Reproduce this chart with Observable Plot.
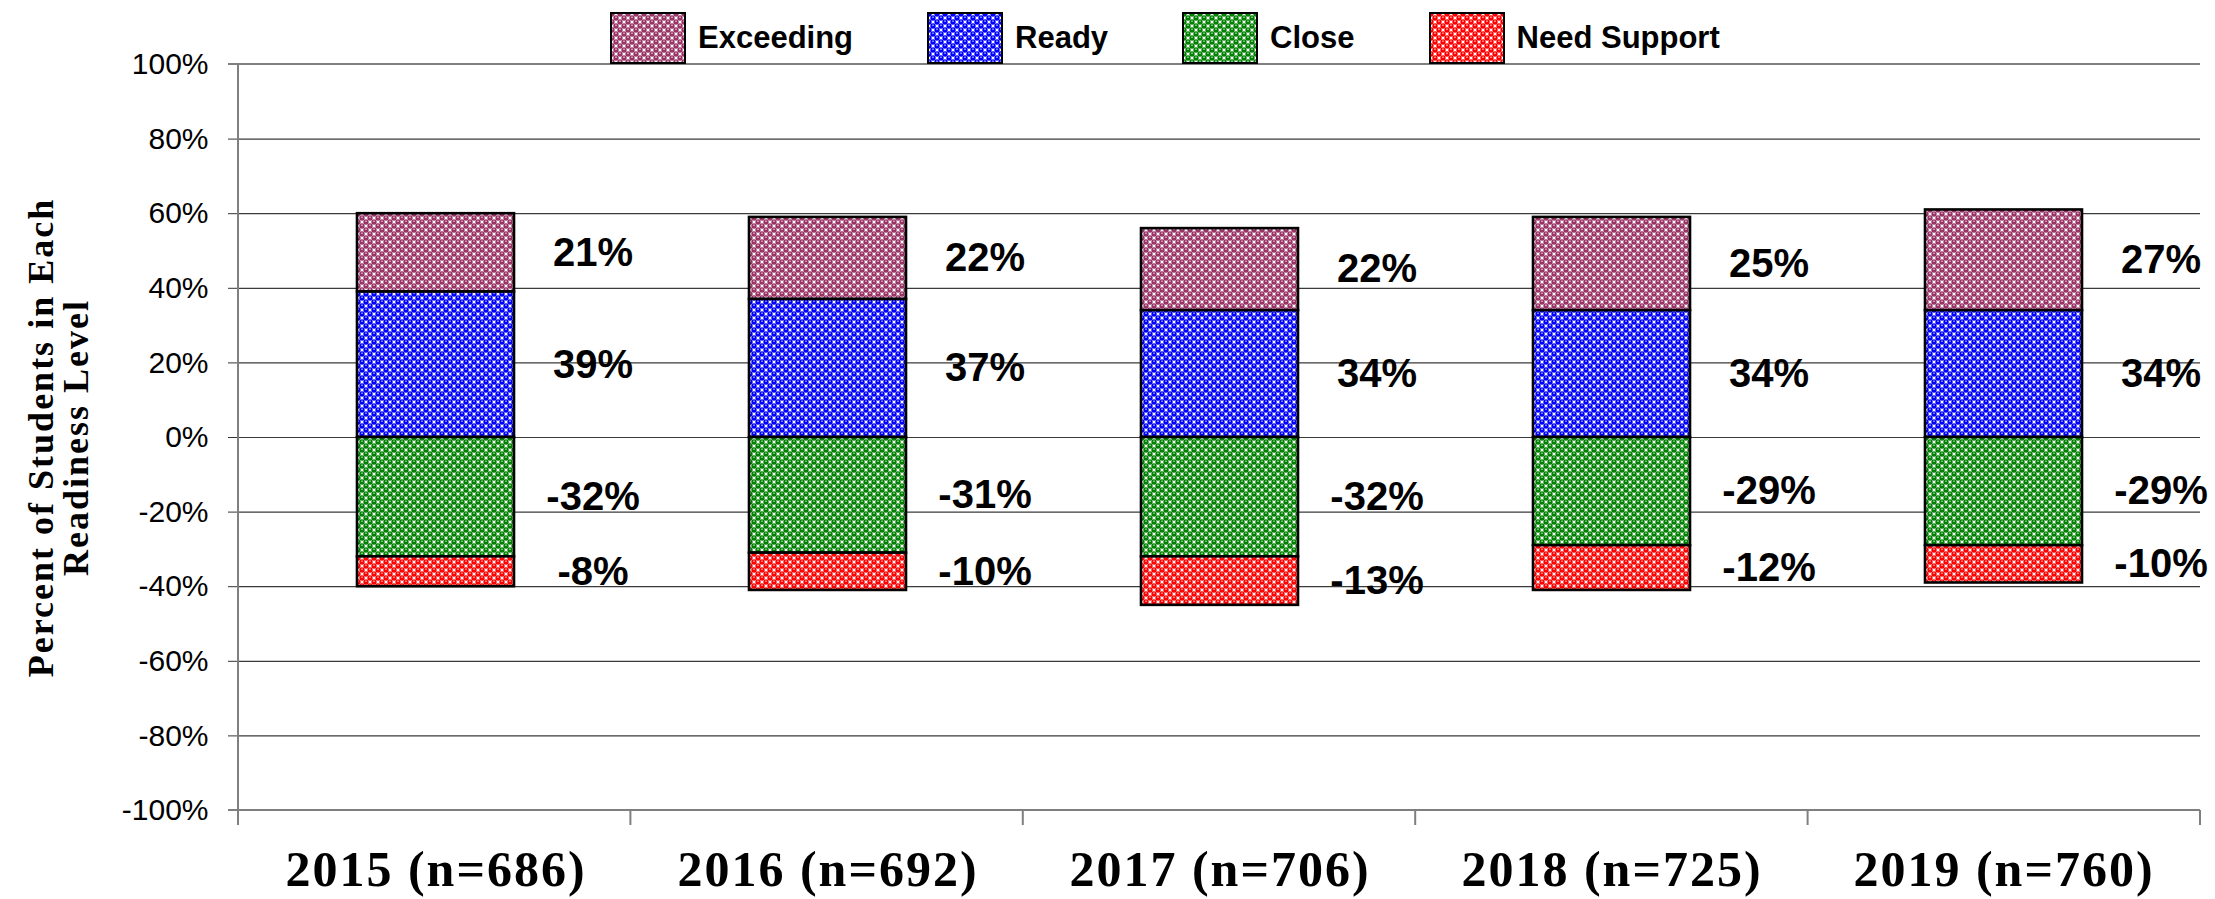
<!DOCTYPE html>
<html>
<head>
<meta charset="utf-8">
<script src="https://cdn.jsdelivr.net/npm/d3@7"></script>
<script src="https://cdn.jsdelivr.net/npm/@observablehq/plot@0.6"></script>
<style>
  body { margin: 0; background: #fff; }
  #wrap { position: relative; width: 2215px; height: 899px; }
  #legend { position: absolute; z-index: 2; top: 12px; left: 610px; display: flex; gap: 74px; align-items: center;
            font-family: "Liberation Sans", Arial, sans-serif; font-weight: bold; font-size: 31px; color: #000; }
  .item { display: flex; align-items: center; gap: 12px; }
  .item svg { display: block; }
</style>
</head>
<body>
<div id="wrap"><div id="legend"></div></div>
<script>
// ---- data ----
const years = ["2015 (n=686)", "2016 (n=692)", "2017 (n=706)", "2018 (n=725)", "2019 (n=760)"];
const levels = ["Exceeding", "Ready", "Close", "Need Support"];
const exceeding = [21, 22, 22, 25, 27];
const ready = [39, 37, 34, 34, 34];
const close = [-32, -31, -32, -29, -29];
const needSupport = [-8, -10, -13, -12, -10];
const yTicks = [100, 80, 60, 40, 20, 0, -20, -40, -60, -80, -100];
const yTitle = "Percent of Students in Each\nReadiness Level";

// ---- styles ----
const colors = ["#993366", "#0000FF", "#008000", "#FF0000"];
const stackOrder = ["Ready", "Close", "Exceeding", "Need Support"];

const series = [exceeding, ready, close, needSupport];
const table = years.flatMap((year, i) => levels.map((level, j) => ({year, level, value: series[j][i]})));

// pattern defs (shared by chart and legend)
const defsSvg = d3.select("body").append("svg")
  .attr("width", 0).attr("height", 0).style("position", "absolute");
const defs = defsSvg.append("defs");
levels.forEach((l, i) => {
  const p = defs.append("pattern").attr("id", "pat" + i)
    .attr("patternUnits", "userSpaceOnUse").attr("width", 8).attr("height", 8);
  p.append("rect").attr("width", 8).attr("height", 8).attr("fill", "#fff");
  for (const [cx, cy] of [[2, 2], [6, 6]]) {
    for (const ox of [-8, 0, 8]) for (const oy of [-8, 0, 8]) {
      p.append("circle").attr("cx", cx + ox).attr("cy", cy + oy).attr("r", 2.7).attr("fill", colors[i]);
    }
  }
  for (const [cx, cy] of [[2, 2], [6, 6]]) {
    p.append("rect").attr("x", cx - 0.8).attr("y", cy - 1.3).attr("width", 1.6).attr("height", 0.9).attr("fill", "#fff");
  }
});

function axisLines(...args) {
  const scales = args[1];
  const dims = args.find(a => a && typeof a.marginLeft === "number");
  const {width, marginLeft, marginRight} = dims;
  const g = d3.create("svg:g").attr("stroke", "#7f7f7f").attr("stroke-width", 2).attr("fill", "none");
  const yb = scales.y(-100), yt = scales.y(100);
  const x0 = marginLeft, x1 = width - marginRight;
  g.append("line").attr("x1", x0).attr("x2", x0).attr("y1", yt).attr("y2", yb + 15);
  g.append("line").attr("x1", x0 - 10).attr("x2", x1).attr("y1", yb).attr("y2", yb);
  g.append("line").attr("x1", x0 - 10).attr("x2", x1).attr("y1", yt).attr("y2", yt);
  const step = (x1 - x0) / years.length;
  for (let k = 1; k <= years.length; ++k) {
    g.append("line").attr("x1", x0 + k * step).attr("x2", x0 + k * step).attr("y1", yb).attr("y2", yb + 15);
  }
  return g.node();
}

const plot = Plot.plot({
  width: 2215,
  height: 899,
  marginLeft: 238,
  marginRight: 15,
  marginTop: 64,
  marginBottom: 89,
  style: {fontFamily: "'Liberation Sans', Arial, sans-serif", background: "#fff", color: "#000", overflow: "visible"},
  x: {domain: years, paddingInner: 0.6, paddingOuter: 0.3, label: null},
  y: {domain: [-100, 100], label: null},
  color: {domain: levels, range: levels.map((l, i) => `url(#pat${i})`)},
  marks: [
    Plot.ruleY(yTicks.filter(t => t > -100 && t < 100), {stroke: "#3a3a3a", strokeWidth: 1.2}),
    Plot.barY(table, {x: "year", y: "value", fill: "level", z: "level", order: stackOrder, stroke: "#000", strokeWidth: 2.6}),
    Plot.text(table, Plot.stackY({
      x: "year", y: "value", z: "level", order: stackOrder,
      text: d => `${d.value}%`, dx: 157, textAnchor: "middle",
      fontSize: 40, fontWeight: "bold", fill: "#000"
    })),
    Plot.axisY({ticks: yTicks, tickFormat: d => `${d}%`, tickSize: 10, tickPadding: 20, fontSize: 30, stroke: "#333", label: null}),
    Plot.axisX({tickSize: 0, tickPadding: 40, fontSize: 50, fontWeight: "bold", fontFamily: "'Liberation Serif', 'Times New Roman', serif", label: null}),
    Plot.text([yTitle], {
      frameAnchor: "left", rotate: -90, dx: -179, text: d => d,
      fontFamily: "'Liberation Serif', 'Times New Roman', serif", fontWeight: "bold", fontSize: 36, lineHeight: 0.95,
      textAnchor: "middle", fill: "#000"
    }),
    axisLines
  ]
});

document.getElementById("wrap").insertBefore(plot, document.getElementById("legend"));

// letter spacing tweaks for serif texts
d3.select(plot).selectAll("text").each(function () {
  const t = this.textContent;
  if (t.startsWith("Percent")) d3.select(this).style("letter-spacing", "2px");
  if (/^\d{4} \(n=/.test(t)) d3.select(this).style("letter-spacing", "2px");
});

// legend
const legend = d3.select("#legend");
levels.forEach((l, i) => {
  const item = legend.append("div").attr("class", "item");
  const s = item.append("svg").attr("width", 76).attr("height", 52);
  s.append("rect").attr("x", 1).attr("y", 1).attr("width", 74).attr("height", 50)
    .attr("fill", `url(#pat${i})`).attr("stroke", "#000").attr("stroke-width", 2);
  item.append("span").text(l);
});
</script>
</body>
</html>
